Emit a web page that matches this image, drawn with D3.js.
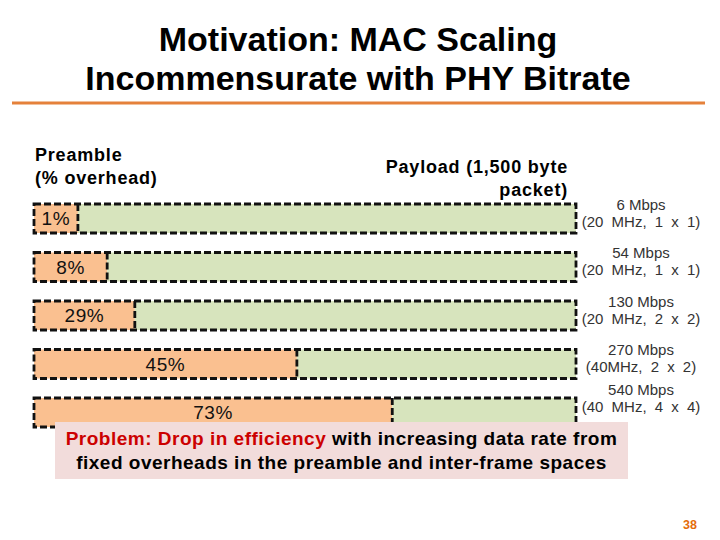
<!DOCTYPE html>
<html>
<head>
<meta charset="utf-8">
<script src="https://cdn.jsdelivr.net/npm/d3@7"></script>
<style>
  html, body { margin: 0; padding: 0; background: #fff; }
  svg { display: block; font-family: "Liberation Sans", Arial, sans-serif; }
</style>
</head>
<body>
<svg id="chart" width="720" height="540"></svg>
<script>
// ---- data ----
const titleLines = ["Motivation: MAC Scaling", "Incommensurate with PHY Bitrate"];
const rates = ["6 Mbps", "54 Mbps", "130 Mbps", "270 Mbps", "540 Mbps"];
const configs = ["(20 MHz, 1 x 1)", "(20 MHz, 1 x 1)", "(20 MHz, 2 x 2)", "(40MHz, 2 x 2)", "(40 MHz, 4 x 4)"];
const overheadPct = [1, 8, 29, 45, 73];
// share of each drawn bar taken by the preamble segment (read from picture, not to scale)
const drawnPreambleShare = [8.1, 13.5, 18.6, 48.5, 66.1];
const preambleHeader = ["Preamble", "(% overhead)"];
const payloadHeader = ["Payload (1,500 byte", "packet)"];
const problemRed = "Problem: Drop in efficiency";
const problemRest = " with increasing data rate from";
const problemLine2 = "fixed overheads in the preamble and inter-frame spaces";
const pageNumber = "38";

// ---- layout ----
const svg = d3.select("#chart");
const x = d3.scaleLinear().domain([0, 100]).range([34, 576]);
const y = d3.scaleBand().domain(rates).range([204, 427]).paddingInner(0.402).paddingOuter(0);
const orange = "#FAC090", green = "#D7E4BD", dashCol = "#111";
const box = { x: 55, y: 422, w: 573, h: 57 };

// title
svg.append("g").selectAll("text").data(titleLines).join("text")
  .attr("x", 358).attr("y", (d, i) => 51 + i * 38.5)
  .attr("text-anchor", "middle")
  .attr("font-size", 34).attr("font-weight", "bold").attr("fill", "#000")
  .text(d => d);

svg.append("line").attr("x1", 12).attr("x2", 705).attr("y1", 103).attr("y2", 103)
  .attr("stroke", "#E5813B").attr("stroke-width", 3);

// headers
svg.append("g").selectAll("text").data(preambleHeader).join("text")
  .attr("x", 35).attr("y", (d, i) => 161 + i * 23)
  .attr("font-size", 18).attr("font-weight", "bold").attr("letter-spacing", 0.8)
  .attr("fill", "#000").text(d => d);

svg.append("g").selectAll("text").data(payloadHeader).join("text")
  .attr("x", 568).attr("y", (d, i) => 173 + i * 23)
  .attr("text-anchor", "end")
  .attr("font-size", 18).attr("font-weight", "bold").attr("letter-spacing", 0.8)
  .attr("fill", "#000").text(d => d);

// bars
const rows = rates.map((r, i) => ({ rate: r, cfg: configs[i], pct: overheadPct[i], share: drawnPreambleShare[i] }));
const g = svg.append("g").selectAll("g").data(rows).join("g");

g.append("rect").attr("x", x(0)).attr("y", d => y(d.rate))
  .attr("width", d => x(d.share) - x(0)).attr("height", y.bandwidth()).attr("fill", orange);
g.append("rect").attr("x", d => x(d.share)).attr("y", d => y(d.rate))
  .attr("width", d => x(100) - x(d.share)).attr("height", y.bandwidth()).attr("fill", green);
g.append("rect").attr("x", x(0)).attr("y", d => y(d.rate))
  .attr("width", x(100) - x(0)).attr("height", y.bandwidth())
  .attr("fill", "none").attr("stroke", dashCol).attr("stroke-width", 2.8).attr("stroke-dasharray", "7,3");
g.append("line").attr("x1", d => x(d.share)).attr("x2", d => x(d.share))
  .attr("y1", d => y(d.rate)).attr("y2", d => y(d.rate) + y.bandwidth())
  .attr("stroke", dashCol).attr("stroke-width", 2.8).attr("stroke-dasharray", "7,3");

g.append("text")
  .attr("x", d => (x(0) + x(d.share)) / 2)
  .attr("y", d => y(d.rate) + y.bandwidth() / 2)
  .attr("dy", "0.36em").attr("text-anchor", "middle")
  .attr("font-size", 19).attr("letter-spacing", 0.6).attr("fill", "#111")
  .text(d => d.pct + "%");

// right-side labels
const labelCenter = d => Math.min(y(d.rate) + y.bandwidth() / 2 - 6, box.y - 24);
g.append("text").attr("x", 641).attr("y", d => labelCenter(d) - 3)
  .attr("text-anchor", "middle").attr("font-size", 15).attr("fill", "#333")
  .text(d => d.rate);
g.append("text").attr("x", 641).attr("y", d => labelCenter(d) + 14)
  .attr("text-anchor", "middle").attr("font-size", 15).attr("fill", "#333")
  .attr("word-spacing", 4)
  .text(d => d.cfg);

// callout
svg.append("rect").attr("x", box.x).attr("y", box.y).attr("width", box.w).attr("height", box.h)
  .attr("fill", "#F2DCDB");
const t1 = svg.append("text").attr("x", box.x + box.w / 2).attr("y", 445)
  .attr("text-anchor", "middle").attr("font-size", 19).attr("font-weight", "bold")
  .attr("letter-spacing", 0.5);
t1.append("tspan").attr("fill", "#CC0000").text(problemRed);
t1.append("tspan").attr("fill", "#000").text(problemRest);
svg.append("text").attr("x", box.x + box.w / 2).attr("y", 469)
  .attr("text-anchor", "middle").attr("font-size", 19).attr("font-weight", "bold")
  .attr("letter-spacing", 0.5).attr("fill", "#000").text(problemLine2);

// page number
svg.append("text").attr("x", 690).attr("y", 529).attr("text-anchor", "middle")
  .attr("font-size", 12.5).attr("font-weight", "bold").attr("fill", "#E46C0A").text(pageNumber);
</script>
</body>
</html>
